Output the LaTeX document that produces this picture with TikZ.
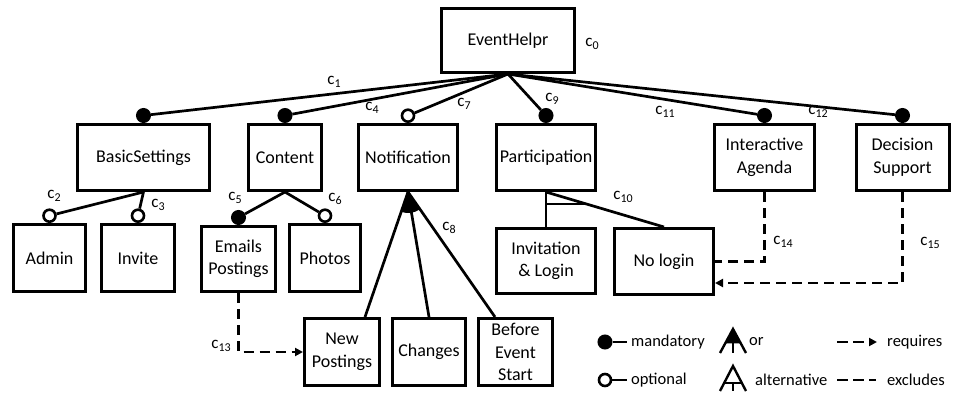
\documentclass[tikz,border=0pt]{standalone}
\usepackage{fontspec}
\setmainfont{Carlito}
\usetikzlibrary{arrows.meta,calc}

% constraint label: c with a readable subscript
\newcommand{\csub}[1]{c\raisebox{-0.4ex}{\fontsize{12}{12}\selectfont #1}}

\tikzset{
  feat/.style={draw, line width=3pt, rectangle, inner sep=0pt, align=center,
    font=\fontsize{18}{22.5}\selectfont},
  edge/.style={line width=2.7pt},
  mand/.style={circle, draw, fill=black, line width=2pt, minimum size=13pt, inner sep=0pt},
  opt/.style={circle, draw, fill=white, line width=2.6pt, minimum size=12pt, inner sep=0pt},
  cl/.style={font=\fontsize{17}{18}\selectfont, inner sep=0pt},
  lg/.style={font=\fontsize{16.5}{18}\selectfont, inner sep=0pt, anchor=west},
  dep/.style={line width=2.7pt, dash pattern=on 10pt off 6pt},
  req/.style={dep, -{Triangle[length=8pt,width=8pt]}},
}

\begin{document}
\begin{tikzpicture}[x=1pt, y=-1pt]
\useasboundingbox (0,0) rectangle (954,396);

% ---- features ----
\node[feat, minimum width=133pt, minimum height=64pt] (root) at (508,40.5) {EventHelpr};

\node[feat, minimum width=132pt, minimum height=66pt] (basic)    at (143.5,157.5) {BasicSettings};
\node[feat, minimum width=73pt,  minimum height=66pt] (content)  at (285,157.5)   {Content};
\node[feat, minimum width=99pt,  minimum height=66pt] (notif)    at (408,157.5)   {Notification};
\node[feat, minimum width=99pt,  minimum height=66pt] (partic)   at (546,157.5)   {Participation};
\node[feat, minimum width=100pt, minimum height=66pt] (agenda)   at (764.5,157.5) {Interactive\\Agenda};
\node[feat, minimum width=93pt,  minimum height=66pt] (decision) at (902.5,157.5) {Decision\\Support};

\node[feat, minimum width=72pt, minimum height=67pt] (admin)    at (49.5,258)  {Admin};
\node[feat, minimum width=73pt, minimum height=67pt] (invite)   at (138,258)   {Invite};
\node[feat, minimum width=74pt, minimum height=65pt] (emails)   at (238.5,259) {Emails\\Postings};
\node[feat, minimum width=71pt, minimum height=67pt] (photos)   at (325,258)   {Photos};
\node[feat, minimum width=99pt, minimum height=65pt] (invlogin) at (546,261)   {Invitation\\\& Login};
\node[feat, minimum width=99pt, minimum height=66pt] (nologin)  at (664,261.5) {No login};

\node[feat, minimum width=75pt, minimum height=67pt] (newpost) at (342,352)   {New\\Postings};
\node[feat, minimum width=73pt, minimum height=67pt] (changes) at (429,352)   {Changes};
\node[feat, minimum width=74pt, minimum height=67pt] (before)  at (515.5,352) {Before\\Event\\Start};

% ---- markers on top of child features ----
\node[mand, anchor=south] (mbasic)    at (basic.north)    {};
\node[mand, anchor=south] (mcontent)  at (content.north)  {};
\node[opt,  anchor=south] (onotif)    at (notif.north)    {};
\node[mand, anchor=south] (mpartic)   at (partic.north)   {};
\node[mand, anchor=south] (magenda)   at (agenda.north)   {};
\node[mand, anchor=south] (mdecision) at (decision.north) {};
\node[opt,  anchor=south] (oadmin)    at (admin.north)    {};
\node[opt,  anchor=south] (oinvite)   at (invite.north)   {};
\node[mand, anchor=south] (memails)   at (emails.north)   {};
\node[opt,  anchor=south] (ophotos)   at (photos.north)   {};

% ---- tree edges ----
\draw[edge] (root.south) -- (mbasic);
\draw[edge] (root.south) -- (mcontent);
\draw[edge] (root.south) -- (onotif);
\draw[edge] (root.south) -- (mpartic);
\draw[edge] (root.south) -- (magenda);
\draw[edge] (root.south) -- (mdecision);

\draw[edge] (basic.south) -- (oadmin);
\draw[edge] (basic.south) -- (oinvite);
\draw[edge] (content.south) -- (memails);
\draw[edge] (content.south) -- (ophotos);

% or-group below Notification
\coordinate (npin) at ([xshift=23pt]newpost.north);
\coordinate (bfin) at ([xshift=-20.5pt]before.north);
\fill (notif.south) -- ++(251:21pt) arc[start angle=251, end angle=304.8, radius=21pt] -- cycle;
\draw[edge] (notif.south) -- (npin);
\draw[edge] (notif.south) -- (changes.north);
\draw[edge] (notif.south) -- (bfin);

% alternative-group below Participation
\draw[edge] (partic.south) -- (invlogin.north);
\draw[edge] (partic.south) -- (nologin.north);
\coordinate (pbar) at ($(partic.south)!0.343!(nologin.north)$);
\draw[edge] (pbar) -- (pbar -| invlogin.north);

% ---- cross-tree constraints ----
\draw[req] (emails.south) |- (newpost.west);
\draw[dep] (agenda.south) |- (nologin.east);
\coordinate (nlin) at ($(nologin.east)+(0,21.5)$);
\draw[req] (decision.south) |- (nlin);

% ---- constraint labels ----
\node[cl] (c0)  at (592,44)  {\csub{0}};
\node[cl] (c1)  at (334,82)  {\csub{1}};
\node[cl] (c2)  at (54,196)  {\csub{2}};
\node[cl] (c3)  at (158,205) {\csub{3}};
\node[cl] (c4)  at (372,108) {\csub{4}};
\node[cl] (c5)  at (235,198) {\csub{5}};
\node[cl] (c6)  at (335,199) {\csub{6}};
\node[cl] (c7)  at (464,104) {\csub{7}};
\node[cl] (c8)  at (449,228) {\csub{8}};
\node[cl] (c9)  at (552,99)  {\csub{9}};
\node[cl] (c10) at (623,197) {\csub{10}};
\node[cl] (c11) at (665,112) {\csub{11}};
\node[cl] (c12) at (818,112) {\csub{12}};
\node[cl] (c13) at (221,346) {\csub{13}};
\node[cl] (c14) at (783,242) {\csub{14}};
\node[cl] (c15) at (930,243) {\csub{15}};

% ---- legend ----
\node[mand] (lgm) at (605,342) {};
\coordinate (lgme) at (627,342);
\draw[edge] (lgm) -- (lgme);
\node[lg] (tmand) at (631,342) {mandatory};

\node[opt] (lgo) at (605,380) {};
\coordinate (lgoe) at (627,380);
\draw[edge] (lgo) -- (lgoe);
\node[lg] (topt) at (631,380) {optional};

% or symbol
\fill (733,329) -- (725.2,343.4) -- (740.8,343.4) -- cycle;
\draw[line width=2.4pt] (720,353) -- (733,329) -- (746,353);
\draw[line width=2.4pt] (733,343) -- (733,353);
\node[lg] (tor) at (749,342) {or};

% alternative symbol
\draw[line width=2.4pt] (720,391) -- (733,366) -- (746,391);
\draw[line width=2.4pt] (724.2,383) -- (741.8,383);
\draw[line width=2.4pt] (733,383) -- (733,391);
\node[lg] (talt) at (755,380) {alternative};

\coordinate (rqa) at (837,342);
\coordinate (rqb) at (877,342);
\draw[req, dash pattern=on 11pt off 5pt] (rqa) -- (rqb);
\node[lg] (treq) at (887,342) {requires};

\coordinate (exa) at (837,380);
\coordinate (exb) at (876,380);
\draw[dep, dash pattern=on 11pt off 5pt] (exa) -- (exb);
\node[lg] (texc) at (887,380) {excludes};
\end{tikzpicture}
\end{document}
